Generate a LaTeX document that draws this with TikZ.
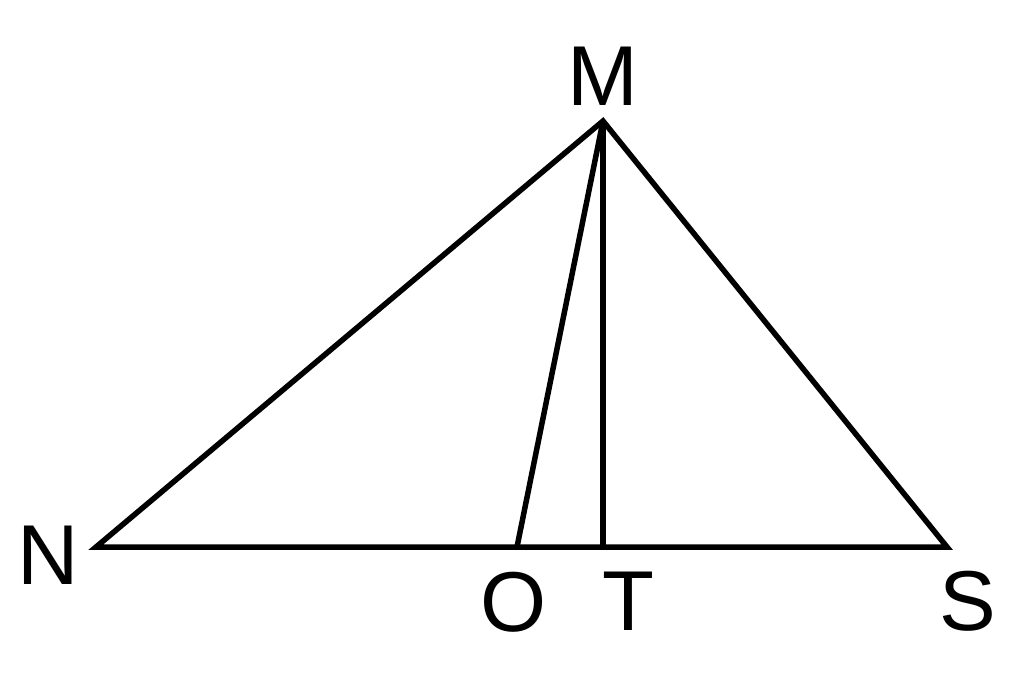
\documentclass[tikz,border=0pt]{standalone}
\usepackage{fontspec}
\setmainfont{Liberation Sans}
\begin{document}
\begin{tikzpicture}[x=1pt,y=-1pt,
  edge/.style={line width=5.5pt,line join=miter,black},
  lbl/.style={inner sep=0pt,anchor=base,font=\fontsize{85}{85}\selectfont}]
\useasboundingbox (0,0) rectangle (1024,686);
\coordinate (M) at (603,121);
\coordinate (N) at (96,547);
\coordinate (S) at (947,547);
\coordinate (O) at (517,547);
\coordinate (T) at (603,547);
\draw[edge] (N) -- (M) -- (S) -- cycle;
\draw[edge] (M) -- (O);
\draw[edge] (M) -- (T);
\node[lbl] (lM) at (603,105) {M};
\node[lbl] (lN) at (48,584) {N};
\node[lbl] (lO) at (514,631) {O};
\node[lbl] (lT) at (628,630) {T};
\node[lbl] (lS) at (968,630) {S};
\end{tikzpicture}
\end{document}
